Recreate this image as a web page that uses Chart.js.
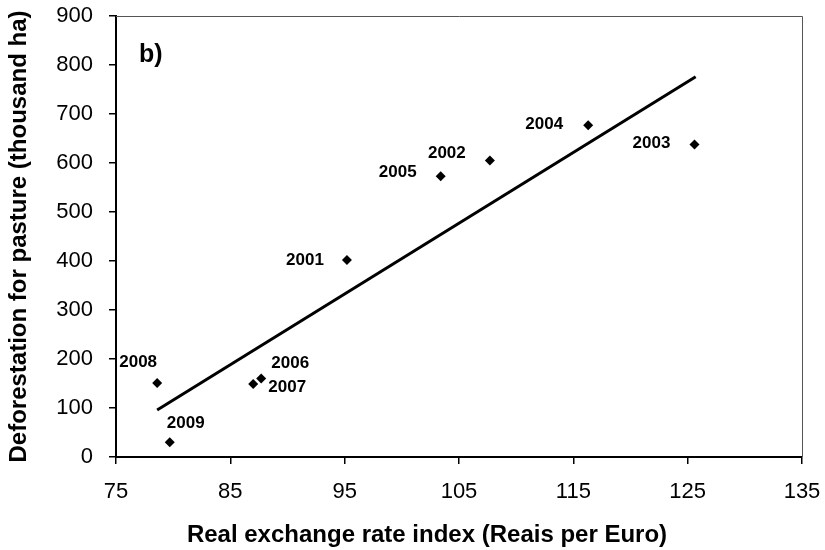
<!DOCTYPE html>
<html><head><meta charset="utf-8">
<script src="https://cdn.jsdelivr.net/npm/chart.js@4"></script>
<style>html,body{margin:0;padding:0;background:#fff}#w{width:825px;height:550px}</style>
</head><body><div id="w"><canvas id="c" width="825" height="550"></canvas></div>
<script>
const years = ['2001','2002','2003','2004','2005','2006','2007','2008','2009'];
const exchangeRate = [95.2, 107.7, 125.6, 116.3, 103.4, 87.7, 87.0, 78.6, 79.7];
const deforestation = [402, 605, 638, 677, 573, 160, 149, 151, 30];
const trendX = [78.6, 125.7];
const trendY = [96, 776];
const xTicks = [75, 85, 95, 105, 115, 125, 135];
const yTicks = [0, 100, 200, 300, 400, 500, 600, 700, 800, 900];
const xTitle = 'Real exchange rate index (Reais per Euro)';
const yTitle = 'Deforestation for pasture (thousand ha)';
const panelLabel = 'b)';

const labelOffsets = {
  '2001': [-42, 0], '2002': [-43, -7], '2003': [-43, -1], '2004': [-44, -1],
  '2005': [-43, -4], '2006': [29, -15], '2007': [34, 3], '2008': [-19, -21], '2009': [16, -19]
};

const FONT = "'Liberation Sans', Arial, sans-serif";

const decorations = {
  id: 'decorations',
  afterDraw(chart) {
    const ctx = chart.ctx;
    const meta = chart.getDatasetMeta(1);
    const a = chart.chartArea;
    ctx.save();
    ctx.strokeStyle = '#555';
    ctx.lineWidth = 1;
    ctx.beginPath();
    ctx.moveTo(a.left, a.top + 0.5);
    ctx.lineTo(a.right + 0.5, a.top + 0.5);
    ctx.lineTo(a.right + 0.5, a.bottom);
    ctx.stroke();
    ctx.font = "bold 17px " + FONT;
    ctx.fillStyle = '#000';
    ctx.textAlign = 'center';
    ctx.textBaseline = 'middle';
    meta.data.forEach((pt, i) => {
      const o = labelOffsets[years[i]];
      ctx.fillText(years[i], pt.x + o[0], pt.y + o[1]);
    });
    ctx.font = "bold 25px " + FONT;
    ctx.textAlign = 'left';
    ctx.textBaseline = 'alphabetic';
    ctx.fillText(panelLabel, 139, 62);
    ctx.font = "bold 24px " + FONT;
    ctx.textAlign = 'center';
    ctx.fillText(xTitle, 427, 542);
    ctx.translate(26, (a.top + a.bottom) / 2);
    ctx.rotate(-Math.PI / 2);
    ctx.fillText(yTitle, 0, 0);
    ctx.restore();
  }
};

function noOverflow(s) {
  s.paddingTop = 0; s.paddingBottom = 0; s.paddingLeft = 0; s.paddingRight = 0;
}

new Chart(document.getElementById('c'), {
  type: 'scatter',
  data: {
    datasets: [
      {
        type: 'line',
        data: trendX.map((x, i) => ({x: x, y: trendY[i]})),
        borderColor: '#000', borderWidth: 3, pointRadius: 0, fill: false, tension: 0
      },
      {
        data: exchangeRate.map((x, i) => ({x: x, y: deforestation[i]})),
        pointStyle: 'rectRot', pointRadius: 5, backgroundColor: '#000', borderColor: '#000', borderWidth: 0
      }
    ]
  },
  options: {
    responsive: false, animation: false,
    layout: {padding: {top: 16, right: 23, left: 0, bottom: 0}},
    plugins: {legend: {display: false}, tooltip: {enabled: false}},
    scales: {
      x: {
        type: 'linear', min: 75, max: 135,
        afterBuildTicks: s => { s.ticks = xTicks.map(v => ({value: v})); },
        afterFit: s => { s.height = 93; noOverflow(s); },
        ticks: {color: '#000', font: {family: FONT, size: 22}, padding: 15, maxRotation: 0},
        grid: {display: true, drawOnChartArea: false, drawTicks: true, tickLength: 7, color: '#000', lineWidth: 1.5},
        border: {display: true, color: '#000', width: 2}
      },
      y: {
        type: 'linear', min: 0, max: 900,
        afterBuildTicks: s => { s.ticks = yTicks.map(v => ({value: v})); },
        afterFit: s => { s.width = 116; noOverflow(s); },
        ticks: {color: '#000', font: {family: FONT, size: 22}, padding: 16},
        grid: {display: true, drawOnChartArea: false, drawTicks: true, tickLength: 7, color: '#000', lineWidth: 1.5},
        border: {display: true, color: '#000', width: 2}
      }
    }
  },
  plugins: [decorations]
});
</script>
</body></html>
